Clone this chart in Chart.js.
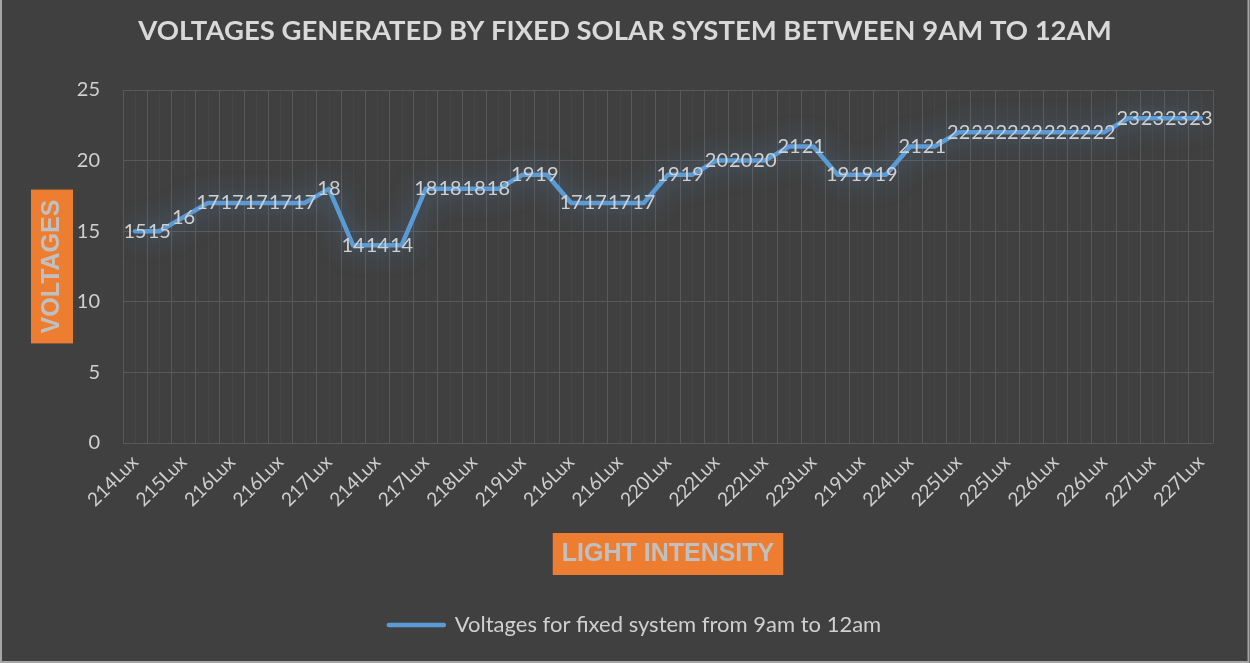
<!DOCTYPE html>
<html>
<head>
<meta charset="utf-8">
<title>Voltages generated by fixed solar system</title>
<script src="https://cdn.jsdelivr.net/npm/chart.js@4.4.1/dist/chart.umd.min.js"></script>
<style>
    html, body { margin: 0; padding: 0; background: #404040; }
    #wrap { width: 1250px; height: 663px; }
</style>
</head>
<body>
<div id="wrap"><canvas id="solarChart" width="1250" height="663"></canvas></div>
<script>
// ==========================================
// DATA
// ==========================================
// every second lux label is hidden on the axis, the hidden ones are estimates
const luxLabels = [
    '214Lux', '214Lux', '215Lux', '216Lux', '216Lux', '216Lux', '216Lux', '216Lux', '217Lux',
    '214Lux', '214Lux', '214Lux', '217Lux', '217Lux', '218Lux', '218Lux', '219Lux', '219Lux',
    '216Lux', '216Lux', '216Lux', '216Lux', '220Lux', '220Lux', '222Lux', '222Lux', '222Lux',
    '223Lux', '223Lux', '219Lux', '219Lux', '219Lux', '224Lux', '224Lux', '225Lux', '225Lux',
    '225Lux', '225Lux', '226Lux', '226Lux', '226Lux', '227Lux', '227Lux', '227Lux', '227Lux'
];
const voltages = [
    15, 15, 16, 17, 17, 17, 17, 17, 18,
    14, 14, 14, 18, 18, 18, 18, 19, 19,
    17, 17, 17, 17, 19, 19, 20, 20, 20,
    21, 21, 19, 19, 19, 21, 21, 22, 22,
    22, 22, 22, 22, 22, 23, 23, 23, 23
];
const yMin = 0;
const yMax = 25;
const yStep = 5;

const chartTitle = 'VOLTAGES GENERATED BY FIXED SOLAR SYSTEM BETWEEN 9AM TO 12AM';
const xTitle = 'LIGHT INTENSITY';
const yTitle = 'VOLTAGES';
const seriesName = 'Voltages for fixed system from 9am to 12am';

// ==========================================
// STYLE
// ==========================================
const BG = '#404040';
const LINE_BLUE = '#5B9BD5';
const ORANGE = '#ED7D31';
const TEXT = '#d0d0d0';
const GRID = '#595959';
const FONT = 'Lato, "Open Sans", sans-serif';
const NARROW = '"Liberation Sans Narrow", "Liberation Sans", sans-serif';

const axisTitleFont = { family: NARROW, size: 25, weight: 'bold', lineHeight: 1.2 };

// background, orange boxes behind axis titles
const backgroundPlugin = {
    id: 'backgroundPlugin',
    afterLayout(chart) {
        // legend sits a little right of centre in the original
        chart.legend.left += 10;
        chart.legend.right += 10;
    },
    beforeDraw(chart) {
        const ctx = chart.ctx;
        const xs = chart.scales.x;
        const ys = chart.scales.y;
        ctx.save();
        ctx.fillStyle = BG;
        ctx.fillRect(0, 0, chart.width, chart.height);

        ctx.font = `bold ${axisTitleFont.size}px ${NARROW}`;
        const lh = axisTitleFont.size * axisTitleFont.lineHeight;
        ctx.fillStyle = ORANGE;

        // x title box
        const xw = ctx.measureText(xTitle).width + 18;
        const xcx = (xs.left + xs.right) / 2;
        const xcy = xs.bottom - xs.options.title.padding.bottom - lh / 2;
        ctx.fillRect(xcx - xw / 2, xcy - 21, xw, 42);

        // y title box
        const yh = ctx.measureText(yTitle).width + 20;
        const ycx = ys.left + ys.options.title.padding.top + lh / 2;
        const ycy = (ys.top + ys.bottom) / 2;
        ctx.fillRect(ycx - 21, ycy - yh / 2, 42, yh);
        ctx.restore();
    },
    afterDraw(chart) {
        // thin frame like the original chart border
        const ctx = chart.ctx;
        ctx.save();
        ctx.strokeStyle = '#a6a6a6';
        ctx.lineWidth = 2;
        ctx.beginPath();
        ctx.moveTo(1, 0);
        ctx.lineTo(1, chart.height - 1);
        ctx.lineTo(chart.width - 1.5, chart.height - 1);
        ctx.lineTo(chart.width - 1.5, 0);
        ctx.stroke();
        ctx.restore();
    }
};

// faint minor lines at each category centre
const minorGridPlugin = {
    id: 'minorGridPlugin',
    beforeDatasetsDraw(chart) {
        const ctx = chart.ctx;
        const xs = chart.scales.x;
        const area = chart.chartArea;
        ctx.save();
        ctx.strokeStyle = 'rgba(255,255,255,0.035)';
        ctx.lineWidth = 1;
        luxLabels.forEach((_, i) => {
            const px = Math.round(xs.getPixelForValue(i)) + 0.5;
            ctx.beginPath();
            ctx.moveTo(px, area.top);
            ctx.lineTo(px, area.bottom);
            ctx.stroke();
        });
        ctx.restore();
    }
};

// soft glow around the line
const glowPlugin = {
    id: 'glowPlugin',
    beforeDatasetDraw(chart) {
        const ctx = chart.ctx;
        ctx.save();
        ctx.shadowColor = 'rgba(91,155,213,0.75)';
        ctx.shadowBlur = 26;
    },
    afterDatasetDraw(chart) {
        chart.ctx.restore();
    }
};

// value labels centred on every point
const valueLabelPlugin = {
    id: 'valueLabelPlugin',
    afterDatasetsDraw(chart) {
        const ctx = chart.ctx;
        const meta = chart.getDatasetMeta(0);
        ctx.save();
        ctx.font = `20px ${FONT}`;
        ctx.fillStyle = TEXT;
        ctx.textAlign = 'center';
        ctx.textBaseline = 'middle';
        meta.data.forEach((pt, i) => {
            ctx.fillText(String(voltages[i]), pt.x, pt.y);
        });
        ctx.restore();
    }
};

new Chart(document.getElementById('solarChart'), {
    type: 'line',
    data: {
        labels: luxLabels,
        datasets: [{
            label: seriesName,
            data: voltages,
            borderColor: LINE_BLUE,
            borderWidth: 4.5,
            borderCapStyle: 'round',
            borderJoinStyle: 'round',
            pointRadius: 0,
            pointHoverRadius: 0,
            tension: 0,
            fill: false
        }]
    },
    options: {
        responsive: false,
        devicePixelRatio: 1,
        animation: false,
        layout: { padding: { left: 0, right: 0, top: 0, bottom: 17 } },
        plugins: {
            title: {
                display: true,
                text: chartTitle,
                color: '#d9d9d9',
                font: { family: FONT, size: 27.5, weight: 'bold', lineHeight: 1.2 },
                padding: { top: 15, bottom: 42 }
            },
            legend: {
                position: 'bottom',
                labels: {
                    color: TEXT,
                    font: { family: FONT, size: 22 },
                    usePointStyle: true,
                    pointStyleWidth: 55,
                    padding: 10,
                    generateLabels: () => [{
                        text: seriesName,
                        pointStyle: 'line',
                        strokeStyle: LINE_BLUE,
                        fillStyle: LINE_BLUE,
                        lineWidth: 4.5,
                        lineCap: 'round',
                        fontColor: TEXT,
                        datasetIndex: 0
                    }]
                }
            },
            tooltip: { enabled: false }
        },
        scales: {
            x: {
                offset: true,
                grid: { color: GRID, offset: true, drawTicks: false },
                border: { display: false },
                ticks: {
                    color: TEXT,
                    font: { family: FONT, size: 19 },
                    autoSkip: false,
                    minRotation: 45,
                    maxRotation: 45,
                    padding: 8,
                    callback: (value, index) => (index % 2 === 0 ? luxLabels[index] : '')
                },
                title: {
                    display: true,
                    text: xTitle,
                    color: '#c0c0c0',
                    font: axisTitleFont,
                    padding: { top: 0, bottom: 35 }
                },
                afterFit: (scale) => { scale.height = 161; }
            },
            y: {
                min: yMin,
                max: yMax,
                grid: { color: GRID, drawTicks: false },
                border: { display: false },
                ticks: {
                    stepSize: yStep,
                    color: TEXT,
                    font: { family: FONT, size: 20 },
                    padding: 23
                },
                title: {
                    display: true,
                    text: yTitle,
                    color: '#c0c0c0',
                    font: axisTitleFont,
                    padding: { top: 37, bottom: 0 }
                },
                afterFit: (scale) => { scale.width = 123; }
            },
            // empty right-hand axis: keeps the plot clear of the right edge
            yRight: {
                position: 'right',
                min: yMin,
                max: yMax,
                grid: { drawOnChartArea: false, drawTicks: false },
                border: { display: false },
                ticks: { display: false },
                afterFit: (scale) => { scale.width = 37; }
            }
        }
    },
    plugins: [backgroundPlugin, minorGridPlugin, glowPlugin, valueLabelPlugin]
});
</script>
</body>
</html>
